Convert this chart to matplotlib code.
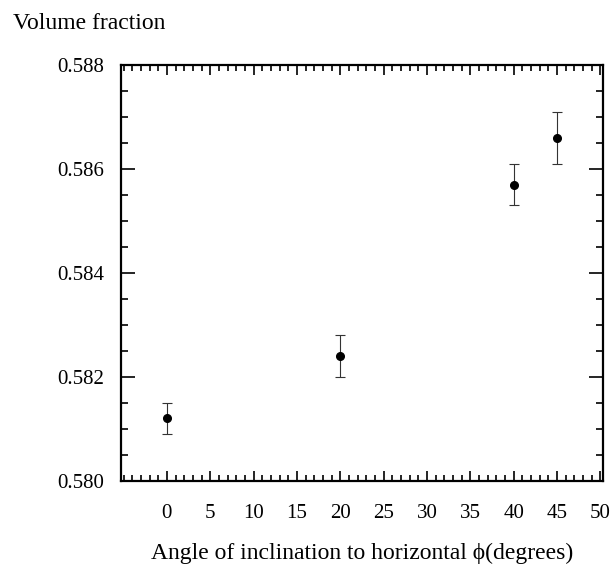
import matplotlib
matplotlib.use('Agg')
import matplotlib.pyplot as plt
from matplotlib.ticker import MultipleLocator, FormatStrFormatter

# data
angle = [0, 20, 40, 45]
volume_fraction = [0.5812, 0.5824, 0.5857, 0.5866]
err = [0.0003, 0.0004, 0.0004, 0.0005]

plt.rcParams['font.family'] = ['Liberation Serif', 'DejaVu Serif']

fig = plt.figure(figsize=(6.14, 5.71), dpi=100)
ax = fig.add_axes([0.197, 0.158, 0.785, 0.728])

ax.errorbar(angle, volume_fraction, yerr=err, fmt='o', color='black',
            markersize=5.5, ecolor='#333333', elinewidth=0.8, capsize=3.5,
            capthick=0.8)

ax.set_xlim(-5.3, 50.3)
ax.set_ylim(0.580, 0.588)
ax.xaxis.set_major_locator(MultipleLocator(5))
ax.xaxis.set_minor_locator(MultipleLocator(1))
ax.yaxis.set_major_locator(MultipleLocator(0.002))
ax.yaxis.set_minor_locator(MultipleLocator(0.0005))
ax.yaxis.set_major_formatter(FormatStrFormatter('%.3f'))
ax.set_xticks([0, 5, 10, 15, 20, 25, 30, 35, 40, 45, 50])

for s in ax.spines.values():
    s.set_linewidth(1.6)

ax.tick_params(axis='both', which='both', direction='in', top=True, right=True,
               labelsize=15, width=1.2)
ax.tick_params(axis='y', which='major', length=10, pad=12)
ax.tick_params(axis='y', which='minor', length=5)
ax.tick_params(axis='x', which='major', length=7, pad=17)
ax.tick_params(axis='x', which='minor', length=4)

ax.set_xlabel('Angle of inclination to horizontal \u03d5(degrees)', fontsize=17,
              labelpad=14)
fig.text(0.021, 0.978, 'Volume fraction', fontsize=17, ha='left', va='top')

fig.savefig('out.png', dpi=100)
